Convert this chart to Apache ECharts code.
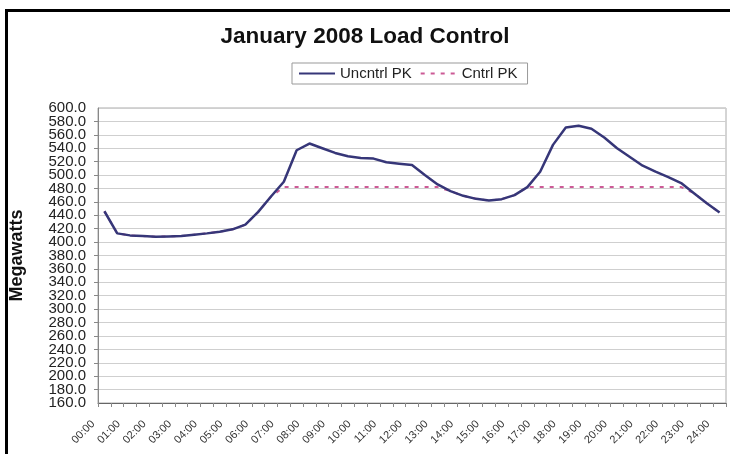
<!DOCTYPE html>
<html>
<head>
<meta charset="utf-8">
<script src="https://cdn.jsdelivr.net/npm/echarts@6/dist/echarts.min.js"></script>
<style>
html,body{margin:0;padding:0;background:#fff;}
#c{width:730px;height:454px;}
</style>
</head>
<body>
<div id="c"></div>
<script>
var categories = ["00:00","00:30","01:00","01:30","02:00","02:30","03:00","03:30","04:00","04:30",
"05:00","05:30","06:00","06:30","07:00","07:30","08:00","08:30","09:00","09:30",
"10:00","10:30","11:00","11:30","12:00","12:30","13:00","13:30","14:00","14:30",
"15:00","15:30","16:00","16:30","17:00","17:30","18:00","18:30","19:00","19:30",
"20:00","20:30","21:00","21:30","22:00","22:30","23:00","23:30","24:00"];

var uncntrlPK = [446,413,410,409,408,408.5,409,411,413,415.5,
419,426,445,468,490,537,547,540,533,528,
525.5,524.5,519,517,515,500,486,476,469,464.5,
462,464,470,482,505,545,571,573.5,569,556,
540,527,514,505,497,488,473,458,444];

var cntrlPK = [446,413,410,409,408,408.5,409,411,413,415.5,
419,426,445,468,482,482,482,482,482,482,
482,482,482,482,482,482,482,476,469,464.5,
462,464,470,482,482,482,482,482,482,482,
482,482,482,482,482,482,473,458,444];

var yTicks = {min:160, max:600, step:20};

var chart = echarts.init(document.getElementById('c'));
var FONT = '"Liberation Sans", Arial, sans-serif';
var yLabelStyle = {fontFamily:FONT, fontSize:15, color:'#222', margin:12};
chart.setOption({
  animation:false,
  backgroundColor:'#fff',
  graphic:[{type:'rect', left:4, top:8, shape:{width:760, height:480},
    style:{fill:'none', stroke:'#000', lineWidth:3}, silent:true}],
  title:{text:'January 2008 Load Control', left:'center', top:20,
    textStyle:{fontFamily:FONT, fontSize:22.5, fontWeight:'bold', color:'#111'}},
  legend:{left:292, top:63, padding:[3,10,3,6], borderColor:'#999', borderWidth:1,
    itemWidth:36, itemHeight:10, itemGap:8,
    itemStyle:{opacity:0},
    textStyle:{fontFamily:FONT, fontSize:15, color:'#222'},
    data:['Uncntrl PK','Cntrl PK']},
  grid:{left:96, right:4, top:108, bottom:51, show:true, borderColor:'#aaa', borderWidth:1},
  xAxis:{type:'category', data:categories, boundaryGap:true,
    axisLine:{lineStyle:{color:'#666', width:1}},
    axisTick:{show:true, interval:0, length:4, lineStyle:{color:'#888'}},
    axisLabel:{interval:1, rotate:45, margin:8, padding:[0,16,0,0], fontFamily:FONT, fontSize:11, color:'#333'}},
  yAxis:[
    {type:'value', min:yTicks.min, max:yTicks.max, interval:yTicks.step, position:'left',
    name:'Megawatts', nameLocation:'middle', nameGap:72,
    nameTextStyle:{fontFamily:FONT, fontSize:18, fontWeight:'bold', color:'#111'},
    axisLine:{show:true, lineStyle:{color:'#888'}},
    axisTick:{show:true, length:4, lineStyle:{color:'#888'}},
    axisLabel:Object.assign({showMinLabel:false, showMaxLabel:false,
      formatter:function(v){return v.toFixed(1);}}, yLabelStyle),
    splitLine:{lineStyle:{color:'#cfcfcf', width:1}}},
    {type:'value', min:yTicks.min, max:yTicks.max, interval:yTicks.step, position:'left', offset:0,
    axisLine:{show:false}, axisTick:{show:false}, splitLine:{show:false},
    axisLabel:Object.assign({showMinLabel:true, showMaxLabel:true,
      formatter:function(v){return (v===yTicks.min||v===yTicks.max)? v.toFixed(1) : '';}}, yLabelStyle)}
  ],
  series:[
    {name:'Uncntrl PK', type:'line', data:uncntrlPK, symbol:'none', z:3, yAxisIndex:0,
      lineStyle:{color:'#363678', width:2.5}, itemStyle:{color:'#363678'}},
    {name:'Cntrl PK', type:'line', data:cntrlPK, symbol:'none', z:2, yAxisIndex:0,
      lineStyle:{color:'#cc5a96', width:2, type:[4,6]}, itemStyle:{color:'#cc5a96'}}
  ]
});
</script>
</body>
</html>
